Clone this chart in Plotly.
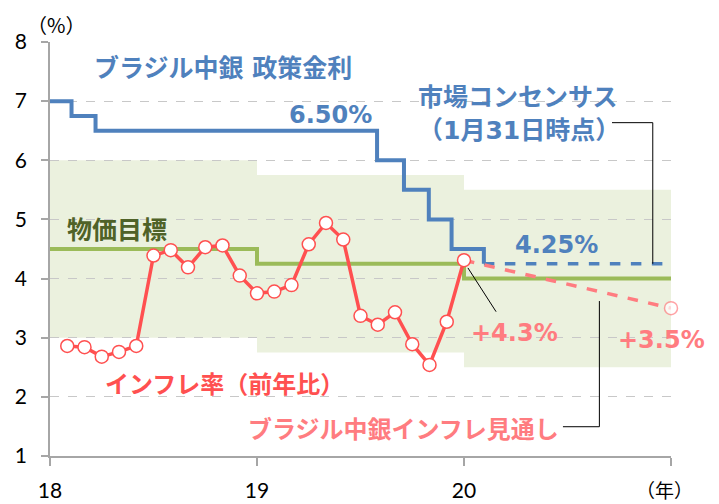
import plotly.graph_objects as go

# ---------------- data ----------------
# policy rate (Selic) change dates (fractional years) and levels
rate_x = [18.0, 18.104, 18.22, 19.58, 19.71, 19.83, 19.94, 20.096]
rate_y = [7.0, 6.75, 6.5, 6.0, 5.5, 5.0, 4.5, 4.25]
# market consensus (dashed)
cons_x = [20.096, 21.0]
cons_y = [4.25, 4.25]

# inflation target (centre) and tolerance band
target_x = [18.0, 19.0, 20.0, 21.0]
target_y = [4.5, 4.25, 4.0, 4.0]
band_lo = [3.0, 2.75, 2.5]
band_hi = [6.0, 5.75, 5.5]

# CPI (IPCA) y/y, monthly Jan-2018 .. Dec-2019
cpi = [2.86, 2.84, 2.68, 2.76, 2.86, 4.39, 4.48, 4.19, 4.53, 4.56, 4.05, 3.75,
       3.78, 3.89, 4.58, 4.94, 4.66, 3.37, 3.22, 3.43, 2.89, 2.54, 3.27, 4.31]
cpi_x = [18 + (i + 1) / 12 for i in range(len(cpi))]

# central bank inflation outlook
fc_x = [20.0, 21.0]
fc_y = [4.31, 3.5]

x_ticks = [18, 19, 20, 21]
x_ticktext = ["18", "19", "20", ""]
y_ticks = [1, 2, 3, 4, 5, 6, 7, 8]

BLUE = "#4F81BD"
GREEN = "#9BBB59"
DKGREEN = "#4F6228"
BAND = "#EBF1DE"
RED = "#FF5050"
PINK = "#FF7C80"
JP = "DejaVu Sans, Noto Sans CJK JP, sans-serif"

fig = go.Figure()

# tolerance band
shapes = []
for i in range(3):
    shapes.append(dict(type="rect", xref="x", yref="y", x0=18 + i, x1=19 + i,
                       y0=band_lo[i], y1=band_hi[i], fillcolor=BAND,
                       line=dict(width=0), layer="below"))

# leader lines
lc = dict(color="black", width=1)
shapes.append(dict(type="path", xref="x", yref="y",
                   path="M 20.715 6.636 L 20.912 6.636 L 20.912 4.25", line=lc))
shapes.append(dict(type="path", xref="x", yref="y",
                   path="M 20.478 1.495 L 20.654 1.495 L 20.654 3.62", line=lc))
shapes.append(dict(type="line", xref="x", yref="y",
                   x0=20.019, y0=4.18, x1=20.155, y1=3.44, line=lc))

fig.add_trace(go.Scatter(x=target_x, y=target_y, mode="lines", line_shape="hv",
                         line=dict(color=GREEN, width=4), hoverinfo="skip",
                         cliponaxis=False))
fig.add_trace(go.Scatter(x=rate_x, y=rate_y, mode="lines", line_shape="hv",
                         line=dict(color=BLUE, width=4), hoverinfo="skip",
                         cliponaxis=False))
fig.add_trace(go.Scatter(x=cons_x, y=cons_y, mode="lines",
                         line=dict(color=BLUE, width=3.5, dash="dash"), hoverinfo="skip",
                         cliponaxis=False))
fig.add_trace(go.Scatter(x=fc_x, y=fc_y, mode="lines+markers",
                         line=dict(color=PINK, width=3.5, dash="dash"),
                         marker=dict(size=[0, 13], color="white",
                                     line=dict(color=PINK, width=1.5)),
                         hoverinfo="skip", cliponaxis=False))
fig.add_trace(go.Scatter(x=cpi_x, y=cpi, mode="lines+markers",
                         line=dict(color=RED, width=3.5),
                         marker=dict(size=13, color="white", line=dict(color=RED, width=1.5)),
                         hoverinfo="skip", cliponaxis=False))

def ann(text, x, y, color, size=24, bold=True, family=JP, xref="x", yref="y"):
    t = f"<b>{text}</b>" if bold else text
    return dict(text=t, x=x, y=y, xref=xref, yref=yref, showarrow=False,
                font=dict(family=family, size=size, color=color),
                xanchor="center", yanchor="middle")

annotations = [
    ann("ブラジル中銀 政策金利", 18.836, 7.555, BLUE, size=25),
    ann("6.50%", 19.353, 6.766, BLUE),
    ann("市場コンセンサス", 20.263, 7.07, BLUE, size=25),
    ann("（1月31日時点）", 20.268, 6.512, BLUE, size=25),
    ann("4.25%", 20.449, 4.567, BLUE),
    ann("物価目標", 18.326, 4.821, DKGREEN, size=25),
    ann("インフレ率（前年比）", 18.841, 2.2, RED),
    ann("ブラジル中銀インフレ見通し", 19.71, 1.44, PINK),
    ann("+4.3%", 20.244, 3.085, PINK),
    ann("+3.5%", 20.954, 2.96, PINK),
    ann("（%）", 0.01, 1.042, "black", size=20, bold=False,
        family="Noto Sans CJK JP", xref="paper", yref="paper"),
    ann("（年）", 0.989, -0.082, "black", size=19, bold=False,
        family="Noto Sans CJK JP", xref="paper", yref="paper"),
]

# the page places the figure 8px from the top-left corner
fig.update_layout(
    width=711, height=496,
    margin=dict(l=42, r=48, t=34, b=48, autoexpand=False),
    paper_bgcolor="white", plot_bgcolor="white",
    showlegend=False,
    shapes=shapes, annotations=annotations,
    xaxis=dict(range=[18, 21], tickvals=x_ticks, ticktext=x_ticktext,
               showgrid=False, zeroline=False, showline=True, automargin=False,
               linecolor="#A6A6A6", linewidth=1.5,
               ticks="outside", ticklen=8, tickcolor="#A6A6A6", tickwidth=1.5,
               tickfont=dict(family="Lato", size=21, color="black"),
               ticklabelstandoff=7),
    yaxis=dict(range=[1, 8], tickvals=y_ticks,
               showgrid=True, gridcolor="#C8C8C8", gridwidth=1, griddash="dash",
               zeroline=False, showline=True, automargin=False,
               linecolor="#A6A6A6", linewidth=1.5,
               ticks="outside", ticklen=7, tickcolor="#A6A6A6", tickwidth=1.5,
               tickfont=dict(family="Lato", size=21, color="black"),
               ticklabelstandoff=10),
)

fig.write_html("out.html")
